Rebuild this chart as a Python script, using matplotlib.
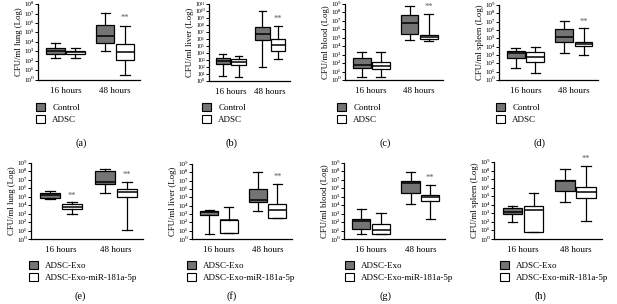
import numpy as np
import matplotlib
matplotlib.use("Agg")
import matplotlib.pyplot as plt
from matplotlib.patches import Patch

plt.rcParams['font.family'] = ['Liberation Serif', 'DejaVu Serif']
plt.rcParams['mathtext.fontset'] = 'stix'

W, H = 617, 304

times = ['16 hours', '48 hours']
groups_top = ['Control', 'ADSC']
groups_bot = ['ADSC-Exo', 'ADSC-Exo-miR-181a-5p']
organs = ['lung', 'liver', 'blood', 'spleen']
letters = ['(a)', '(b)', '(c)', '(d)', '(e)', '(f)', '(g)', '(h)']

# box stats in log10 units: [whislo, q1, med, q3, whishi]
# order per panel: 16h group1, 16h group2, 48h group1, 48h group2
stats_a = [[2.3, 2.75, 3.0, 3.35, 3.93], [2.34, 2.75, 2.92, 3.08, 3.32],
           [3.08, 3.93, 4.68, 5.8, 7.05], [0.54, 2.14, 2.92, 3.83, 5.73]]
stats_b = [[0.71, 2.5, 2.88, 3.35, 3.92], [0.61, 2.26, 2.74, 3.1, 3.54],
           [2.03, 5.8, 6.75, 7.78, 10.05], [3.2, 4.25, 5.19, 6.04, 7.92]]
stats_c = [[0.31, 1.47, 1.82, 2.64, 3.3], [0.31, 1.36, 1.63, 2.1, 3.3],
           [4.77, 5.5, 6.74, 7.64, 8.8], [4.65, 4.84, 5.12, 5.31, 7.8]]
stats_d = [[1.4, 2.6, 3.28, 3.48, 3.8], [0.88, 2.12, 2.8, 3.32, 4.0],
           [3.28, 4.52, 5.2, 6.08, 7.12], [3.0, 4.08, 4.32, 4.52, 6.2]]
stats_e = [[4.69, 4.8, 5.2, 5.47, 5.67], [2.93, 3.55, 3.83, 4.1, 4.34],
           [5.5, 6.56, 6.76, 8.05, 8.24], [1.09, 4.92, 5.59, 5.9, 6.76]]
stats_f = [[0.6, 2.9, 3.22, 3.42, 3.5], [0.7, 0.72, 2.23, 2.31, 3.82],
           [3.39, 4.42, 4.7, 6.0, 8.09], [2.5, 2.51, 3.5, 4.18, 6.57]]
stats_g = [[0.59, 1.19, 2.1, 2.37, 3.6], [0.58, 0.59, 1.1, 1.78, 3.08],
           [4.15, 5.45, 6.64, 6.92, 7.94], [2.37, 4.47, 4.98, 5.18, 6.44]]
stats_h = [[1.93, 2.93, 3.2, 3.67, 3.86], [0.8, 0.81, 3.4, 3.86, 5.4],
           [4.29, 5.6, 6.76, 6.95, 8.15], [2.05, 4.83, 5.52, 6.1, 8.49]]
all_stats = [stats_a, stats_b, stats_c, stats_d,
             stats_e, stats_f, stats_g, stats_h]

# boxes marked with ** (index into the 4 boxes of each panel)
stars = [[3], [3], [3], [3], [1, 3], [3], [3], [3]]
ymax_exp = [8, 11, 9, 9, 9, 9, 9, 9]

# axes boxes in pixels: left, right, top, bottom
ax_px = [(38, 140, 4, 80), (209, 290, 4, 81), (345, 443, 4, 80), (499, 598, 5, 80),
         (31, 143, 163, 239), (192, 292, 164, 239), (344, 445, 163, 239), (494, 602, 162, 239)]
leg_px = [(36, 103), (202, 103), (337, 103), (496, 103),
          (29, 261), (187, 261), (345, 261), (500, 261)]
lab_px = [(81, 143), (232, 143), (385, 143), (540, 143),
          (80, 296), (232, 296), (386, 296), (540, 296)]

SUP = str.maketrans('0123456789', '⁰¹²³⁴⁵⁶⁷⁸⁹')

fig = plt.figure(figsize=(W / 100, H / 100), dpi=100)
fill = ['#747474', 'white']
pos = [0.8, 1.2, 1.8, 2.2]

for i, st in enumerate(all_stats):
    l, r, t, b = ax_px[i]
    ax = fig.add_axes([l / W, 1 - b / H, (r - l) / W, (b - t) / H])
    bx = []
    for s in st:
        v = 10.0 ** np.array(s)
        bx.append(dict(whislo=v[0], q1=v[1], med=v[2], q3=v[3], whishi=v[4], fliers=[]))
    art = ax.bxp(bx, positions=pos, widths=0.37, patch_artist=True,
                 showfliers=False,
                 boxprops=dict(linewidth=0.9, edgecolor='black'),
                 medianprops=dict(color='black', linewidth=1.1),
                 whiskerprops=dict(linewidth=0.9),
                 capprops=dict(linewidth=0.9))
    for k, p in enumerate(art['boxes']):
        p.set_facecolor(fill[k % 2])
    for k in stars[i]:
        ax.text(pos[k], 10.0 ** (st[k][4] + 0.35), '**', ha='center', va='bottom',
                fontsize=6, color='#555555')
    ax.set_yscale('log')
    ax.set_ylim(1, 10.0 ** ymax_exp[i])
    ax.set_yticks([10.0 ** n for n in range(ymax_exp[i] + 1)])
    ax.set_yticklabels(['10' + str(n).translate(SUP) for n in range(ymax_exp[i] + 1)])
    ax.minorticks_off()
    ax.set_xlim(0.45, 2.5)
    ax.set_xticks([1, 2])
    ax.set_xticklabels(times, fontsize=6.5)
    ax.tick_params(axis='x', length=0, pad=5)
    ax.tick_params(axis='y', labelsize=4.2 if ymax_exp[i] > 9 else 5,
                   length=2, width=0.7, pad=1)
    for sp in ['top', 'right']:
        ax.spines[sp].set_visible(False)
    for sp in ['left', 'bottom']:
        ax.spines[sp].set_linewidth(0.9)
    ax.set_ylabel('CFU/ml %s (Log)' % organs[i % 4], fontsize=6.3, labelpad=1)

    names = groups_top if i < 4 else groups_bot
    handles = [Patch(facecolor=fill[0], edgecolor='black', linewidth=0.8),
               Patch(facecolor=fill[1], edgecolor='black', linewidth=0.8)]
    lx, ly = leg_px[i]
    fig.legend(handles, names, loc='upper left', bbox_to_anchor=(lx / W, 1 - ly / H),
               frameon=False, fontsize=6.5, handlelength=1.0, handleheight=1.0,
               handletextpad=0.8, labelspacing=0.35, borderaxespad=0, borderpad=0)
    tx, ty = lab_px[i]
    fig.text(tx / W, 1 - ty / H, letters[i], ha='center', va='center', fontsize=7.5)

fig.savefig('out.png', dpi=100)
